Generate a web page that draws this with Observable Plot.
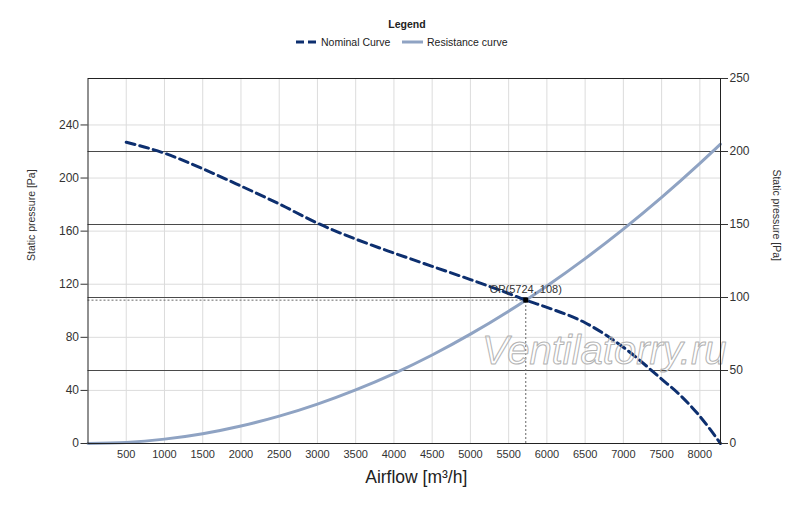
<!DOCTYPE html>
<html><head><meta charset="utf-8">
<script src="https://cdn.jsdelivr.net/npm/d3@7"></script>
<script src="https://cdn.jsdelivr.net/npm/@observablehq/plot@0.6"></script>
<style>
body{margin:0;background:#fff;font-family:"Liberation Sans",Arial,sans-serif;color:#222;}
#legend{position:relative;width:800px;height:55px;font-size:10.5px;}
#legend .t{position:absolute;left:0;width:814px;top:18px;text-align:center;font-weight:bold;font-size:10.5px;}
#legend .it{position:absolute;top:35px;white-space:nowrap;line-height:14px;}
#legend svg{position:absolute;}
#chart svg{display:block;}
</style></head><body>
<div id="legend">
  <div class="t">Legend</div>
  <svg style="left:296px;top:39px" width="20" height="6"><line x1="0" y1="3" x2="20" y2="3" stroke="#0d2f6f" stroke-width="3" stroke-dasharray="8,4"/></svg>
  <div class="it" style="left:321px">Nominal Curve</div>
  <svg style="left:402px;top:39px" width="21" height="6"><line x1="0" y1="3" x2="21" y2="3" stroke="#8fa3c3" stroke-width="3"/></svg>
  <div class="it" style="left:427px">Resistance curve</div>
</div>
<div id="chart"></div>
<script>
// Nominal fan curve (left axis, Pa)
const nominalAirflow  = [500, 1000, 1500, 2000, 2500, 3000, 3500, 4000, 4500, 5000, 5500, 5724, 6000, 6500, 7000, 7500, 7750, 8000, 8270];
const nominalPressure = [227, 218.7, 207, 194, 180.5, 166, 154, 143.5, 133.5, 123.5, 113, 108, 102.6, 91, 72.5, 48.5, 36, 20.5, 0];
// Resistance (system) curve (left axis, Pa)
const resistanceAirflow  = [0, 500, 1000, 1500, 2000, 2500, 3000, 3500, 4000, 4500, 5000, 5500, 5724, 6000, 6500, 7000, 7500, 8000, 8270];
const resistancePressure = [0, 0.8, 3.3, 7.4, 13.2, 20.6, 29.7, 40.4, 52.7, 66.7, 82.4, 99.7, 108, 118.7, 139.3, 161.5, 185.4, 211, 225.5];
// Operating point
const opAirflow = 5724, opPressure = 108;
const opLabel = "OP(5724, 108)";
// Axes
const xTicks = [500, 1000, 1500, 2000, 2500, 3000, 3500, 4000, 4500, 5000, 5500, 6000, 6500, 7000, 7500, 8000];
const leftTicks = [0, 40, 80, 120, 160, 200, 240];
const rightTicks = [0, 50, 100, 150, 200, 250];
const xMax = 8270, leftMax = 275, rightMax = 250;
const watermark = "Ventilatorry.ru";

const k = leftMax / rightMax;
const nominal = nominalAirflow.map((a, i) => ({a, p: nominalPressure[i]}));
const resistance = resistanceAirflow.map((a, i) => ({a, p: resistancePressure[i]}));
const op = [{a: opAirflow, p: opPressure}];
const rightGrid = rightTicks.filter(v => v > 0 && v < rightMax).map(v => v * k);

const chart = Plot.plot({
  width: 800,
  height: 452,
  marginTop: 23,
  marginBottom: 64,
  marginLeft: 87.5,
  marginRight: 80,
  style: {fontFamily: '"Liberation Sans", Arial, sans-serif', fontSize: "11px", color: "#333", background: "#fff"},
  x: {domain: [0, xMax]},
  y: {domain: [0, leftMax]},
  marks: [
    Plot.gridX(xTicks, {stroke: "#dcdcdc", strokeOpacity: 1}),
    Plot.gridY(leftTicks.filter(v => v > 0), {stroke: "#dcdcdc", strokeOpacity: 1}),
    Plot.ruleY(rightGrid, {stroke: "#4a4a4a", strokeWidth: 1.1}),
    Plot.ruleY(op, {y: "p", x1: 0, x2: "a", stroke: "#666", strokeWidth: 1, strokeDasharray: "2,2"}),
    Plot.ruleX(op, {x: "a", y1: 0, y2: "p", stroke: "#666", strokeWidth: 1, strokeDasharray: "2,2"}),
    Plot.line(resistance, {x: "a", y: "p", stroke: "#8fa3c3", strokeWidth: 3, curve: "monotone-x"}),
    Plot.line(nominal, {x: "a", y: "p", stroke: "#0d2f6f", strokeWidth: 3, strokeDasharray: "9,5", curve: "monotone-x"}),
    Plot.dot(op, {x: "a", y: "p", symbol: "square", r: 2.8, fill: "#000", stroke: null}),
    Plot.text(op, {x: "a", y: "p", text: () => opLabel, dy: -11, fill: "#333", fontSize: 11}),
    Plot.text([watermark], {frameAnchor: "right", textAnchor: "end", dx: 6, dy: 90, fontSize: 40, fontStyle: "italic", fill: "none", stroke: "#b3b3b3", strokeWidth: 1}),
    Plot.axisX({ticks: xTicks, tickFormat: d => String(d), tickSize: 0, tickPadding: 7, label: null, fill: "#333"}),
    Plot.axisY({ticks: leftTicks, tickSize: 7, tickPadding: 2, label: null, fontSize: 12, fill: "#333"}),
    Plot.axisY({anchor: "right", ticks: rightTicks.map(v => v * k), tickFormat: d => String(Math.round(d / k)), tickSize: 7, tickPadding: 2, label: null, fontSize: 12, fill: "#333"}),
    Plot.text(["Static pressure [Pa]"], {frameAnchor: "left", dx: -56, rotate: -90, fontSize: 10.5, fill: "#333"}),
    Plot.text(["Static pressure [Pa]"], {frameAnchor: "right", dx: 56, rotate: 90, fontSize: 10.5, fill: "#333"}),
    Plot.text(["Airflow [m³/h]"], {frameAnchor: "bottom", dx: 12, dy: 39, fontSize: 17.5, fill: "#222"}),
    Plot.frame({stroke: "#222", strokeWidth: 1})
  ]
});
document.getElementById("chart").append(chart);
</script>
</body></html>
